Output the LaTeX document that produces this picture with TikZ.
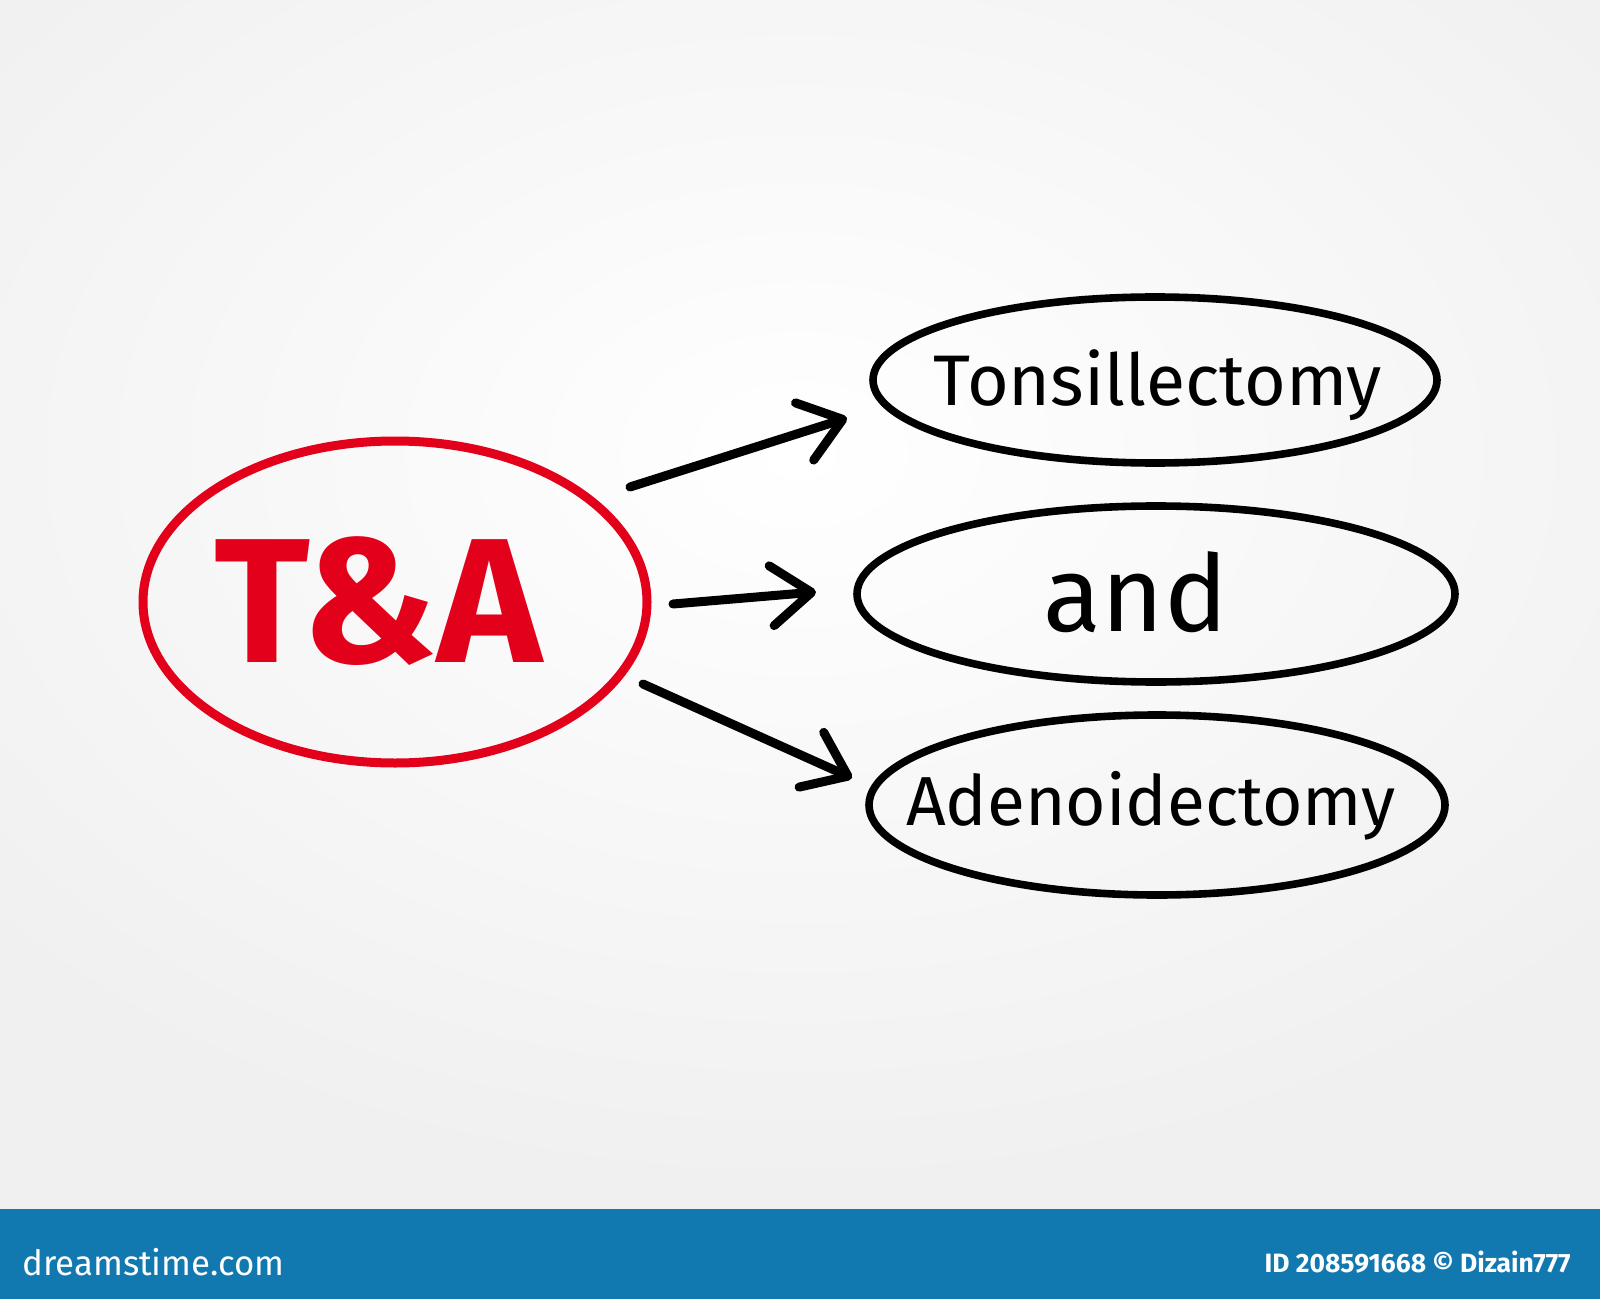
\documentclass[tikz,border=0pt]{standalone}
\usepackage{fontspec}
\setmainfont{Fira Sans}
\usetikzlibrary{shapes.geometric,arrows.meta,calc}
\definecolor{tared}{HTML}{E2001A}
\definecolor{barblue}{HTML}{1178B0}
\begin{document}
\begin{tikzpicture}[x=0.5pt,y=-0.5pt,
  oval/.style={ellipse,draw=black,line width=3.8pt,inner sep=0pt},
  redoval/.style={ellipse,draw=tared,line width=4.5pt,inner sep=0pt},
  arr/.style={line width=4.5pt,line cap=round,-{Straight Barb[length=20pt,width=30pt,round]}},
  lbl/.style={inner sep=0pt,text=black}]
\useasboundingbox (0,0) rectangle (1600,1299);
\shade[inner color=white,outer color=black!6] (-300,-300) rectangle (1900,1209);
\fill[barblue] (0,1209) rectangle (1600,1299);
% main nodes
\node[redoval,minimum width=252pt,minimum height=161pt] (ta) at (395,602) {};
\node[inner sep=0pt,text=tared] (tatxt) at (378,601) {\resizebox{164pt}{!}{\bfseries T\&A}};
\node[oval,minimum width=282pt,minimum height=83pt] (ton) at (1155,380) {};
\node[lbl] (tontxt) at (1158,385) {\resizebox{224pt}{!}{Tonsillectomy}};
\node[oval,minimum width=299pt,minimum height=88pt] (and) at (1156,594) {};
\node[lbl] (andtxt) at (1136,592) {\resizebox{92pt}{!}{and}};
\node[oval,minimum width=288pt,minimum height=90pt] (ad) at (1157,805) {};
\node[lbl] (adtxt) at (1151,806) {\resizebox{245pt}{!}{Adenoidectomy}};
% arrows
\draw[arr] ($(ta.center)+(235,-115)$) -- ($(ton.center)+(-308,38)$);
\draw[arr] ($(ta.center)+(278,2)$) -- ($(and.center)+(-340,-2)$);
\draw[arr] ($(ta.center)+(248,82)$) -- ($(ad.center)+(-305,-27)$);
% bottom bar
\node[anchor=west,inner sep=0pt,text=white] (ds) at (22,1262) {\resizebox{131pt}{!}{dreamstime.com}};
\node[anchor=east,inner sep=0pt,text=white] (id) at (1571,1262) {\resizebox{153pt}{!}{\bfseries ID 208591668 © Dizain777}};
\end{tikzpicture}
\end{document}
